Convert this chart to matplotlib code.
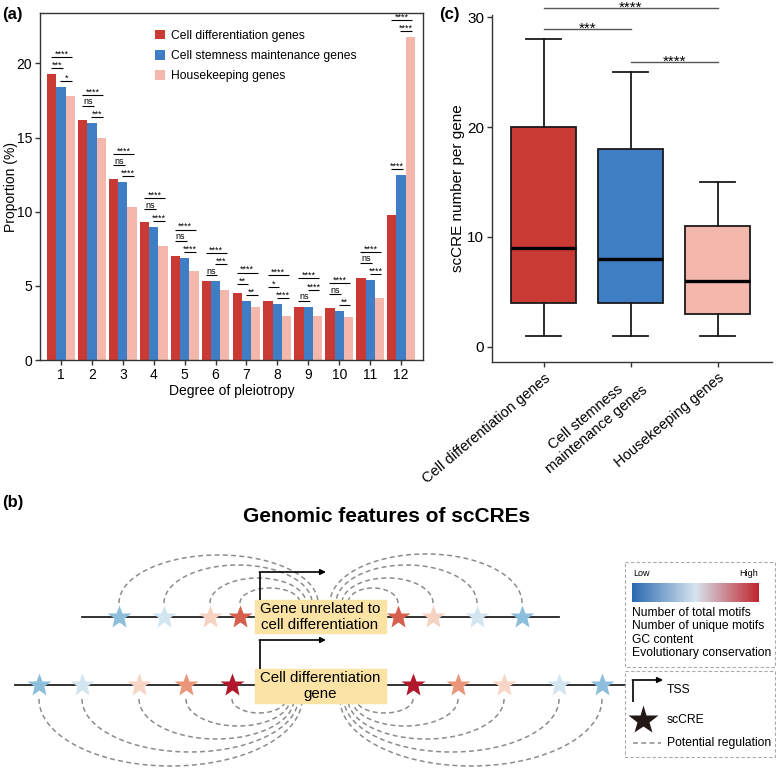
import numpy as np
import matplotlib
matplotlib.use('Agg')
import matplotlib.pyplot as plt
from matplotlib.patches import Rectangle
from matplotlib.colors import LinearSegmentedColormap

plt.rcParams['font.family'] = ['Liberation Sans', 'DejaVu Sans']

# ---- panel (a) data: proportion of genes by degree of pleiotropy
degree = np.arange(1, 13)
diff_genes = [19.3, 16.2, 12.2, 9.3, 7.0, 5.3, 4.5, 4.0, 3.6, 3.5, 5.5, 9.8]
stem_genes = [18.4, 16.0, 12.0, 9.0, 6.9, 5.3, 4.0, 3.8, 3.6, 3.3, 5.4, 12.5]
house_genes = [17.8, 15.0, 10.3, 7.7, 6.0, 4.7, 3.6, 3.0, 3.0, 2.9, 4.2, 21.8]
series_names = ['Cell differentiation genes', 'Cell stemness maintenance genes', 'Housekeeping genes']
sig_rb = ['***', 'ns', 'ns', 'ns', 'ns', 'ns', '**', '*', 'ns', 'ns', 'ns', '****']
sig_bp = ['*', '***', '****', '****', '****', '***', '**', '****', '****', '**', '****', '****']
sig_rp = ['****'] * 12

# ---- panel (c) data: scCRE number per gene
box_labels = ['Cell differentiation genes', 'Cell stemness\nmaintenance genes', 'Housekeeping genes']
whis_lo = [1, 1, 1]
q1 = [4, 4, 3]
med = [9, 8, 6]
q3 = [20, 18, 11]
whis_hi = [28, 25, 15]
box_sig = [(1, 2, '***'), (2, 3, '****'), (1, 3, '****')]

# ---- panel (b) schematic content
top_stars_x = [119, 164, 210, 240, 398, 433, 477, 522]
top_stars_c = ['#8DBFDD', '#D3E5F0', '#F6D2C2', '#D6604D', '#D6604D', '#F6D2C2', '#D3E5F0', '#8DBFDD']
top_arc_end = [318, 312, 306, 300, 348, 342, 336, 330]
top_arc_h = [48, 38, 25, 15, 15, 25, 38, 49]
bot_stars_x = [39, 82, 139, 186, 232, 413, 458, 504, 559, 602]
bot_stars_c = ['#8DBFDD', '#D3E5F0', '#F8D5C4', '#E9967A', '#B2182B',
               '#B2182B', '#E9967A', '#F8D5C4', '#D3E5F0', '#8DBFDD']
bot_arc_end = [302, 298, 294, 290, 286, 356, 352, 348, 344, 340]
bot_arc_h = [67, 53, 40, 27, 14, 14, 27, 40, 53, 67]
feature_lines = ['Number of total motifs', 'Number of unique motifs', 'GC content', 'Evolutionary conservation']

red, blue, pink = '#C93A34', '#3F7DC4', '#F3B7AB'

W, H = 776, 769
fig = plt.figure(figsize=(W / 100, H / 100), dpi=100)


def place(l, t, r, b):
    return [l / W, 1 - b / H, (r - l) / W, (b - t) / H]


# ================= (a)
ax = fig.add_axes(place(40, 13, 423, 360))
bw = 0.3
ax.bar(degree - bw, diff_genes, bw, color=red, label=series_names[0])
ax.bar(degree, stem_genes, bw, color=blue, label=series_names[1])
ax.bar(degree + bw, house_genes, bw, color=pink, label=series_names[2])
ax.set_xlim(0.32, 12.71)
ax.set_ylim(0, 23.4)
ax.set_xticks(degree)
ax.set_yticks([0, 5, 10, 15, 20])
ax.tick_params(labelsize=10, length=3.5, width=1, color='#333333', pad=2)
for s in ax.spines.values():
    s.set_linewidth(1.0)
    s.set_color('#333333')
ax.set_xlabel('Degree of pleiotropy', fontsize=10, labelpad=2)
ax.set_ylabel('Proportion (%)', fontsize=10)
ax.yaxis.set_label_coords(-0.058, 0.5)
ax.legend(loc='upper left', bbox_to_anchor=(0.30, 0.952), frameon=False, fontsize=8.7,
          handlelength=0.85, handleheight=0.85, handletextpad=0.45, labelspacing=0.68,
          borderpad=0, borderaxespad=0)

for i, g in enumerate(degree):
    vals = [diff_genes[i], stem_genes[i], house_genes[i]]
    xs = [g - bw, g, g + bw]
    pairs = [(0, 1, sig_rb[i]), (1, 2, sig_bp[i]), (0, 2, sig_rp[i])]
    bases = [max(vals[a:b + 1]) + 0.4 for a, b, _ in pairs]
    order = sorted(range(3), key=lambda k: (bases[k], pairs[k][1] - pairs[k][0]))
    placed = []
    for k in order:
        a, b, lab = pairs[k]
        y = bases[k]
        for (pa, pb, py) in placed:
            if not (b < pa or a > pb):
                y = max(y, py + 0.75)
        placed.append((a, b, y))
        x0, x1 = xs[a] - 0.02, xs[b] + 0.06
        ax.plot([x0, x1], [y, y], color='black', lw=0.8, solid_capstyle='butt')
        off = 1.0 if lab == 'ns' else 0.2
        ax.annotate(lab, ((x0 + x1) / 2, y), xytext=(0, off), textcoords='offset points',
                    ha='center', va='baseline', fontsize=6.6 if lab != 'ns' else 6.5)

# ================= (c)
axc = fig.add_axes(place(491.7, 15, 771.7, 361.7))
stats = [dict(whislo=whis_lo[k], q1=q1[k], med=med[k], q3=q3[k], whishi=whis_hi[k], fliers=[])
         for k in range(3)]
bp = axc.bxp(stats, positions=[1, 2, 3], widths=0.75, patch_artist=True, showfliers=False,
             capwidths=0.4,
             boxprops=dict(linewidth=1.3, edgecolor='#1a1a1a'),
             whiskerprops=dict(linewidth=1.3, color='#1a1a1a'),
             capprops=dict(linewidth=1.3, color='#1a1a1a'),
             medianprops=dict(linewidth=2.4, color='black', solid_capstyle='butt'))
for patch, c in zip(bp['boxes'], [red, blue, pink]):
    patch.set_facecolor(c)
axc.set_xlim(0.4, 3.62)
axc.set_ylim(-1.37, 30.2)
axc.set_yticks([0, 10, 20, 30])
axc.set_xticks([1, 2, 3])
axc.set_xticklabels(box_labels, rotation=40, ha='right', rotation_mode='anchor',
                    fontsize=10.5, multialignment='center')
axc.tick_params(axis='y', labelsize=11, length=3.5, width=1, color='#333333', pad=2)
axc.tick_params(axis='x', length=3.5, width=1, color='#333333', pad=3)
for side in ['top', 'right']:
    axc.spines[side].set_visible(False)
for side in ['left', 'bottom']:
    axc.spines[side].set_linewidth(1.0)
    axc.spines[side].set_color('#333333')
axc.set_ylabel('scCRE number per gene', fontsize=11)
axc.yaxis.set_label_coords(-0.094, 0.5)

level = {}
for a, b, lab in box_sig:
    y = max(whis_hi[a - 1:b]) + 0.9
    for (pa, pb), py in level.items():
        if a < pb and b > pa:
            y = max(y, py + 1.95)
    level[(a, b)] = y
    axc.plot([a, b], [y, y], color='#555555', lw=1.0, clip_on=False)
    axc.annotate(lab, ((a + b) / 2, y), xytext=(0, -2.6), textcoords='offset points',
                 ha='center', va='baseline', fontsize=11, annotation_clip=False)

# ================= (b)
axb = fig.add_axes(place(0, 490, 776, 769))
axb.set_axis_off()

cmap = LinearSegmentedColormap.from_list('lh', [(0, '#2A69B0'), (0.5, '#D6E5EF'), (1, '#C0252F')])
axb.imshow(np.linspace(0, 1, 256)[None, :], extent=[632, 759, 602, 583], aspect='auto',
           cmap=cmap, zorder=2)
axb.set_xlim(0, W)
axb.set_ylim(H, 490)

axb.text(387, 516, 'Genomic features of scCREs', ha='center', va='center',
         fontsize=15, fontweight='bold')

dash = dict(color='#8C8C8C', lw=1.1, dashes=(3.2, 2.2), zorder=1)


def arc(x0, x1, y0, h):
    t = np.linspace(0, np.pi, 90)
    cx, a = (x0 + x1) / 2, (x1 - x0) / 2
    axb.plot(cx - a * np.cos(t), y0 - h * np.sin(t), **dash)


for x, xe, h in zip(top_stars_x, top_arc_end, top_arc_h):
    arc(x, xe, 603, h)
for x, xe, h in zip(bot_stars_x, bot_arc_end, bot_arc_h):
    arc(x, xe, 699, -h)

axb.plot([82, 559], [617, 617], color='#222222', lw=1.3, zorder=2)
axb.plot([15, 625], [685, 685], color='#222222', lw=1.3, zorder=2)
for x, c in zip(top_stars_x, top_stars_c):
    axb.plot(x, 617, marker='*', ms=18, color=c, mec='none', zorder=3)
for x, c in zip(bot_stars_x, bot_stars_c):
    axb.plot(x, 685, marker='*', ms=18, color=c, mec='none', zorder=3)

gene_box = '#FAE3A4'
axb.add_patch(Rectangle((255, 600), 131, 33, color=gene_box, zorder=4))
axb.add_patch(Rectangle((255, 669), 131, 34, color=gene_box, zorder=4))
axb.text(320, 617, 'Gene unrelated to\ncell differentiation', ha='center', va='center',
         fontsize=10.8, zorder=5, linespacing=1.1)
axb.text(320, 686, 'Cell differentiation\ngene', ha='center', va='center',
         fontsize=10.8, zorder=5, linespacing=1.1)

arrow = dict(arrowstyle='-|>', lw=1.2, color='black', mutation_scale=8, shrinkA=0, shrinkB=0)
for ytop, ybot in [(572, 600), (640, 669)]:
    axb.plot([260, 260], [ybot, ytop], color='black', lw=1.2, zorder=5, solid_capstyle='butt')
    axb.annotate('', xy=(326, ytop), xytext=(259.4, ytop), arrowprops=arrow, zorder=5)

# legend boxes
for (l, t, r, b) in [(625, 562, 775, 667), (625, 671, 775, 757)]:
    axb.add_patch(Rectangle((l, t), r - l, b - t, fill=False, ec='#AAAAAA', lw=0.8,
                            ls=(0, (3, 2)), zorder=2))
axb.text(633, 573, 'Low', fontsize=6.5, ha='left', va='center')
axb.text(758, 573, 'High', fontsize=6.5, ha='right', va='center')
for k, s in enumerate(feature_lines):
    axb.text(632, 613 + k * 13.4, s, fontsize=8.7, ha='left', va='center')

axb.plot([633, 633], [702, 680], color='black', lw=1.2, solid_capstyle='butt')
axb.annotate('', xy=(663, 680), xytext=(632.4, 680), arrowprops=arrow)
axb.text(667, 690, 'TSS', fontsize=8.7, ha='left', va='center')
axb.plot(643, 720, marker='*', ms=22, color='#231815', mec='none')
axb.text(667, 720, 'scCRE', fontsize=8.7, ha='left', va='center')
axb.plot([633, 661], [743, 743], **dash)
axb.text(667, 743, 'Potential regulation', fontsize=8.7, ha='left', va='center')

# panel letters
fig.text(2 / W, 1 - 14 / H, '(a)', fontsize=12, fontweight='bold', va='center')
fig.text(439 / W, 1 - 15 / H, '(c)', fontsize=12, fontweight='bold', va='center')
fig.text(2 / W, 1 - 503 / H, '(b)', fontsize=12, fontweight='bold', va='center')

fig.savefig('out.png', dpi=100)
